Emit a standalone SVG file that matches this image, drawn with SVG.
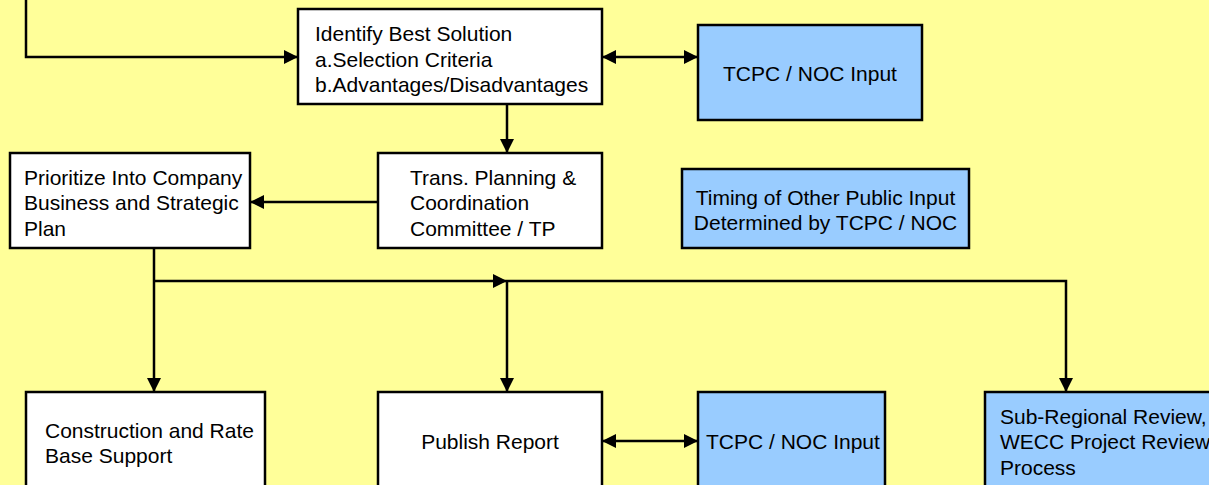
<svg xmlns="http://www.w3.org/2000/svg" width="1209" height="485" viewBox="0 0 1209 485">
<defs>
<style>
.bg{fill:#FFFF99}
.box{fill:#FFFFFF;stroke:#000;stroke-width:2.5}
.blue{fill:#99CCFF;stroke:#000;stroke-width:2.5}
.t{font-family:"Liberation Sans",Arial,Helvetica,sans-serif;font-size:21px;fill:#000}
.c{text-anchor:middle}
.ln{fill:none;stroke:#000;stroke-width:2.5}
</style>
<marker id="ah" viewBox="0 0 10 10" refX="10" refY="5" markerWidth="15" markerHeight="14" markerUnits="userSpaceOnUse" orient="auto-start-reverse">
<path d="M0,0 L10,5 L0,10 z" fill="#000"/>
</marker>
</defs>
<rect class="bg" x="0" y="0" width="1209" height="485"/>

<g id="connectors">
<path class="ln" d="M26,0 V57 H298" marker-end="url(#ah)"/>
<path class="ln" d="M602,57 H698" marker-start="url(#ah)" marker-end="url(#ah)"/>
<path class="ln" d="M507,104 V153" marker-end="url(#ah)"/>
<path class="ln" d="M378,202 H250" marker-end="url(#ah)"/>
<path class="ln" d="M154,248 V392" marker-end="url(#ah)"/>
<path class="ln" d="M154,281 H507" marker-end="url(#ah)"/>
<path class="ln" d="M507,281 V392" marker-end="url(#ah)"/>
<path class="ln" d="M507,281 H1066 V392" marker-end="url(#ah)"/>
<path class="ln" d="M602,441 H698" marker-start="url(#ah)" marker-end="url(#ah)"/>
</g>

<g id="identify">
<rect class="box" x="298" y="9" width="304" height="95"/>
<text class="t"><tspan x="315" y="41">Identify Best Solution</tspan><tspan x="315" y="66.5">a.Selection Criteria</tspan><tspan x="315" y="92">b.Advantages/Disadvantages</tspan></text>
</g>

<g id="tcpc1">
<rect class="blue" x="698" y="25" width="224" height="95"/>
<text class="t c"><tspan x="810" y="81">TCPC / NOC Input</tspan></text>
</g>

<g id="trans">
<rect class="box" x="378" y="153" width="224" height="95"/>
<text class="t"><tspan x="410" y="184.5">Trans. Planning &amp;</tspan><tspan x="410" y="210">Coordination</tspan><tspan x="410" y="235.5">Committee / TP</tspan></text>
</g>

<g id="prioritize">
<rect class="box" x="10" y="153" width="240" height="95"/>
<text class="t"><tspan x="24" y="184.5">Prioritize Into Company</tspan><tspan x="24" y="210">Business and Strategic</tspan><tspan x="24" y="235.5">Plan</tspan></text>
</g>

<g id="timing">
<rect class="blue" x="682" y="169" width="287" height="79"/>
<text class="t c"><tspan x="825.5" y="204.5">Timing of Other Public Input</tspan><tspan x="825.5" y="230">Determined by TCPC / NOC</tspan></text>
</g>

<g id="construction">
<rect class="box" x="26" y="392" width="239" height="110"/>
<text class="t"><tspan x="45" y="437.5">Construction and Rate</tspan><tspan x="45" y="463">Base Support</tspan></text>
</g>

<g id="publish">
<rect class="box" x="378" y="392" width="224" height="110"/>
<text class="t c"><tspan x="490" y="448.5">Publish Report</tspan></text>
</g>

<g id="tcpc2">
<rect class="blue" x="698" y="392" width="187" height="110"/>
<text class="t"><tspan x="706" y="448.5">TCPC / NOC Input</tspan></text>
</g>

<g id="subregional">
<rect class="blue" x="985" y="392" width="240" height="110"/>
<text class="t"><tspan x="1000" y="423.5">Sub-Regional Review,</tspan><tspan x="1000" y="449">WECC Project Review</tspan><tspan x="1000" y="474.5">Process</tspan></text>
</g>
</svg>
